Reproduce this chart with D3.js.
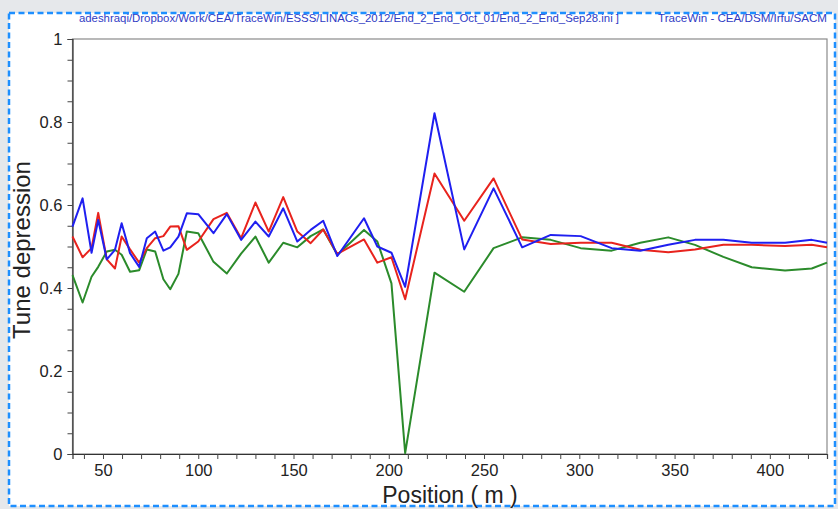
<!DOCTYPE html>
<html lang="en">
<head>
<meta charset="UTF-8">
<title>Tune depression</title>
<style>
  body { margin: 0; background: #e6e8eb; }
  svg { display: block; }
</style>
</head>
<body>
<div id="chart"></div>
<script src="https://cdn.jsdelivr.net/npm/d3@7"></script>
<script>
// positions along the linac (m)
const position = [34, 39.3, 44, 47.5, 52, 56.3, 59.8, 64.2, 69, 73, 77.4, 81.7, 85.3, 89.6, 94, 100,
  108, 115, 122.5, 130, 137, 144.6, 152, 159, 165.6, 173, 187, 194, 201.4, 208.6, 224, 239.6,
  255, 270, 285, 300.7, 317, 332, 346.7, 360.7, 375.6, 390.5, 408, 422, 430];

const tuneBlue = [0.548, 0.616, 0.485, 0.564, 0.469, 0.492, 0.556, 0.484, 0.451, 0.52, 0.536, 0.49,
  0.498, 0.524, 0.58, 0.578, 0.532, 0.578, 0.516, 0.56, 0.524, 0.592, 0.512, 0.54, 0.562, 0.477,
  0.568, 0.5, 0.485, 0.403, 0.821, 0.493, 0.64, 0.498, 0.528, 0.525, 0.496, 0.49, 0.504, 0.516,
  0.516, 0.509, 0.509, 0.516, 0.509];

const tuneRed = [0.524, 0.474, 0.496, 0.581, 0.469, 0.447, 0.524, 0.493, 0.461, 0.496, 0.52, 0.525,
  0.548, 0.549, 0.492, 0.512, 0.566, 0.581, 0.52, 0.606, 0.536, 0.619, 0.536, 0.508, 0.541, 0.482,
  0.517, 0.461, 0.474, 0.373, 0.676, 0.562, 0.664, 0.517, 0.506, 0.509, 0.509, 0.492, 0.486, 0.493,
  0.504, 0.504, 0.501, 0.504, 0.498];

const tuneGreen = [0.431, 0.365, 0.427, 0.451, 0.488, 0.492, 0.48, 0.439, 0.443, 0.493, 0.488, 0.421,
  0.397, 0.434, 0.536, 0.532, 0.463, 0.435, 0.483, 0.524, 0.461, 0.509, 0.498, 0.525, 0.541, 0.48,
  0.54, 0.512, 0.411, 0.002, 0.437, 0.391, 0.496, 0.522, 0.516, 0.496, 0.49, 0.509, 0.522, 0.504,
  0.475, 0.45, 0.442, 0.447, 0.461];

const xTickLabels = [50, 100, 150, 200, 250, 300, 350, 400];
const yTickLabels = [0, 0.2, 0.4, 0.6, 0.8, 1];

// header as it shows in the window (path starts off to the left)
const headerLeft = "adeshraqi/Dropbox/Work/CEA/TraceWin/ESSS/LINACs_2012/End_2_End_Oct_01/End_2_End_Sep28.ini ]";
const headerRight = "TraceWin - CEA/DSM/Irfu/SACM";

const width = 838, height = 509;
const plot = { left: 72.5, right: 827, top: 39, bottom: 454 };

const svg = d3.select("#chart").append("svg")
    .attr("width", width)
    .attr("height", height)
    .style("font-family", "'Liberation Sans', Arial, sans-serif");

// white panel with dashed selection border
svg.append("rect")
    .attr("x", 9).attr("y", 13)
    .attr("width", 826).attr("height", 493)
    .attr("fill", "#fff")
    .attr("stroke", "#1e8fff")
    .attr("stroke-width", 2.5)
    .attr("stroke-dasharray", "6,3.5");

const x = d3.scaleLinear().domain([34, 430]).range([plot.left, plot.right]);
const y = d3.scaleLinear().domain([0, 1]).range([plot.bottom, plot.top]);

// header texts
svg.append("text")
    .attr("x", 619).attr("y", 22)
    .attr("text-anchor", "end")
    .attr("font-size", 11.4)
    .attr("fill", "#2f3bc4")
    .text(headerLeft);

svg.append("text")
    .attr("x", 827).attr("y", 22)
    .attr("text-anchor", "end")
    .attr("font-size", 11.6)
    .attr("fill", "#2f3bc4")
    .text(headerRight);

// frame
svg.append("rect")
    .attr("x", plot.left).attr("y", plot.top)
    .attr("width", plot.right - plot.left)
    .attr("height", plot.bottom - plot.top)
    .attr("fill", "none")
    .attr("stroke", "#8a8a8a")
    .attr("stroke-width", 1.2);

// axes
const xAxis = svg.append("g")
    .attr("transform", `translate(0,${plot.bottom})`)
    .call(d3.axisBottom(x)
        .tickValues(d3.range(40, 431, 10))
        .tickSize(5)
        .tickFormat(d => xTickLabels.includes(d) ? d : ""));

const yAxis = svg.append("g")
    .attr("transform", `translate(${plot.left},0)`)
    .call(d3.axisLeft(y)
        .tickValues(d3.range(0, 21).map(i => i / 20))
        .tickSize(5)
        .tickFormat(d => yTickLabels.some(v => Math.abs(v - d) < 1e-9) ? d3.format("~g")(d) : ""));

[xAxis, yAxis].forEach(a => {
    a.select(".domain").attr("stroke", "#333").attr("stroke-width", 1.2);
    a.selectAll(".tick line").attr("stroke", "#444");
    a.selectAll(".tick text")
        .attr("font-size", 16.5)
        .attr("font-family", "'Liberation Sans', Arial, sans-serif")
        .attr("fill", "#222");
});
xAxis.selectAll(".tick text").attr("dy", "0.9em").attr("y", 7);
yAxis.selectAll(".tick text").attr("x", -10);

// axis titles
svg.append("text")
    .attr("x", 450).attr("y", 503)
    .attr("text-anchor", "middle")
    .attr("font-size", 23)
    .attr("fill", "#222")
    .text("Position ( m )");

svg.append("text")
    .attr("transform", "translate(30,250) rotate(-90)")
    .attr("text-anchor", "middle")
    .attr("font-size", 24)
    .attr("fill", "#222")
    .text("Tune depression");

// lines
const series = [
    { values: tuneGreen, color: "#2b8b2b" },
    { values: tuneRed, color: "#e8231d" },
    { values: tuneBlue, color: "#1f1ff0" }
];

const line = d3.line()
    .x((d, i) => x(position[i]))
    .y(d => y(d));

svg.append("g")
    .selectAll("path")
    .data(series)
    .join("path")
    .attr("d", d => line(d.values))
    .attr("fill", "none")
    .attr("stroke", d => d.color)
    .attr("stroke-width", 2)
    .attr("stroke-linejoin", "round");
</script>
</body>
</html>
